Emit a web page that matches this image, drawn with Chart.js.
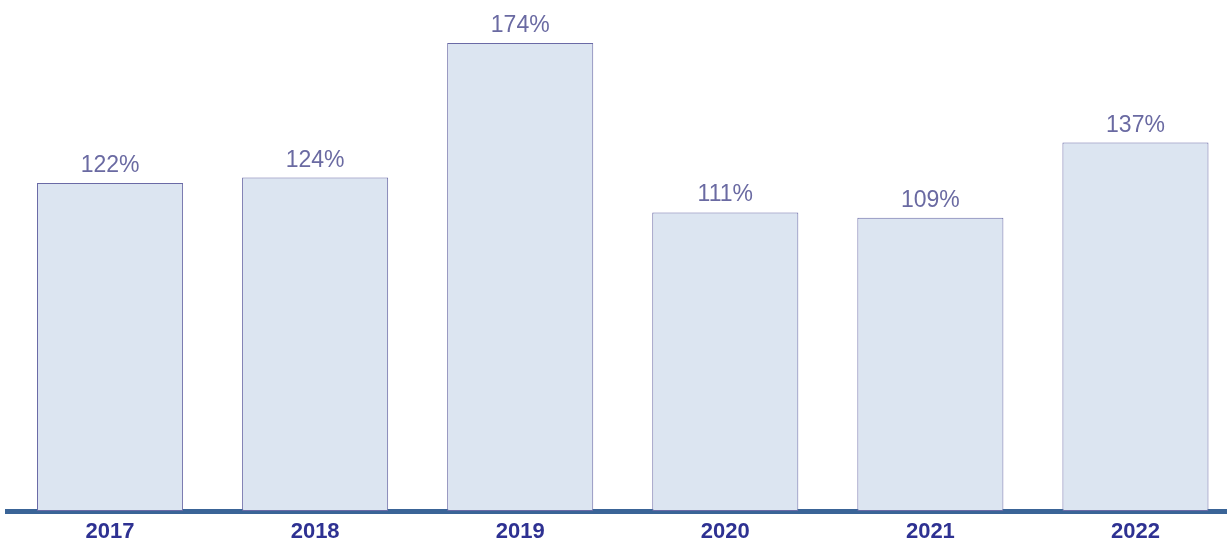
<!DOCTYPE html>
<html>
<head>
<meta charset="utf-8">
<script src="https://cdn.jsdelivr.net/npm/chart.js@4/dist/chart.umd.min.js"></script>
<style>
  html, body { margin:0; padding:0; background:#fff; overflow:hidden; }
  #wrap { width:1238px; height:544px; }
</style>
</head>
<body>
<div id="wrap"><canvas id="chart" width="1238" height="544"></canvas></div>
<script>
const YEARS = ["2017","2018","2019","2020","2021","2022"];
const VALUES = [122, 124, 174, 111, 109, 137];

// draws the "122%" labels above each bar
const valueLabels = {
  id: "valueLabels",
  afterDatasetsDraw(chart) {
    const { ctx } = chart;
    const meta = chart.getDatasetMeta(0);
    ctx.save();
    ctx.font = "23px 'Liberation Sans', Arial, sans-serif";
    ctx.fillStyle = "#6a6aa2";
    ctx.textAlign = "center";
    ctx.textBaseline = "alphabetic";
    meta.data.forEach((bar, i) => {
      ctx.fillText(VALUES[i] + "%", bar.x, bar.y - 11);
    });
    ctx.restore();
  }
};

new Chart(document.getElementById("chart"), {
  type: "bar",
  data: {
    labels: YEARS,
    datasets: [{
      data: VALUES,
      backgroundColor: "#dce5f1",
      borderColor: "#6a6aa6",
      borderWidth: 1,
      borderSkipped: false,
      categoryPercentage: 1,
      barPercentage: 146 / 205,
    }]
  },
  options: {
    responsive: false,
    animation: false,
    devicePixelRatio: 1,
    layout: { padding: { left: 7.5, right: 0, top: 0, bottom: 0 } },
    plugins: { legend: { display: false }, tooltip: { enabled: false } },
    scales: {
      y: { display: false, min: 0, max: 190 },
      x: {
        z: 1,
        grid: { display: false },
        border: { display: true, color: "#3a6497", width: 5 },
        ticks: {
          color: "#2e3192",
          padding: 0,
          font: { size: 22, weight: "bold", family: "'Liberation Sans', Arial, sans-serif" }
        },
        afterFit: s => { s.height = 33; }
      }
    }
  },
  plugins: [valueLabels]
});
</script>
</body>
</html>
